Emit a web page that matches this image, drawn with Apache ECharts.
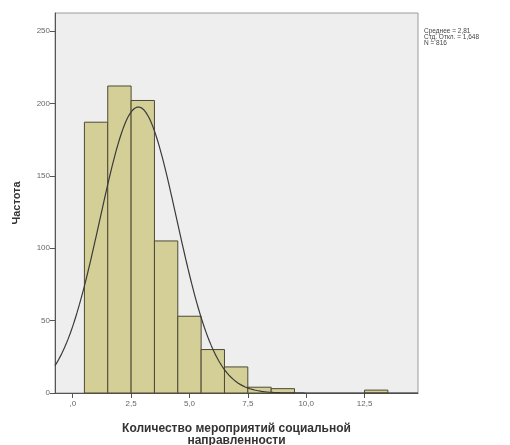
<!DOCTYPE html>
<html>
<head>
<meta charset="utf-8">
<script src="https://cdn.jsdelivr.net/npm/echarts@6/dist/echarts.min.js"></script>
<style>
  html, body { margin: 0; padding: 0; background: #ffffff; }
  #chart { width: 510px; height: 445px; }
</style>
</head>
<body>
<div id="chart"></div>
<script>
// Histogram bins: centre of each unit-wide bin and its frequency
const binCenters = [1, 2, 3, 4, 5, 6, 7, 8, 9, 13];
const binCounts = [187, 212, 202, 105, 53, 30, 18, 4, 3, 2];
const binWidth = 1;

// Summary statistics shown beside the plot
const statMean = 2.81;
const statSd = 1.648;
const statN = 816;
const statLines = ['Среднее = 2,81', 'Стд. Откл. = 1,648', 'N = 816'];

// Axis ticks and labels
const xTickValues = [0, 2.5, 5, 7.5, 10, 12.5];
const xTickLabels = [',0', '2,5', '5,0', '7,5', '10,0', '12,5'];
const xMin = -0.76, xMax = 14.79;
const yMin = 0, yMax = 262.4, yStep = 50;

// Fitted normal curve over the visible range
const curveStep = 0.05;
const curve = [];
for (let x = xMin; x <= xMax + 1e-9; x += curveStep) {
  const z = (x - statMean) / statSd;
  const y = statN * binWidth / (statSd * Math.sqrt(2 * Math.PI)) * Math.exp(-0.5 * z * z);
  curve.push([x, y]);
}

const bins = binCenters.map((c, i) => [c, binCounts[i]]);

const chart = echarts.init(document.getElementById('chart'), null, { renderer: 'canvas' });

chart.setOption({
  animation: false,
  backgroundColor: '#ffffff',
  grid: {
    left: 55, top: 13, right: 92, bottom: 52,
    outerBoundsMode: 'none',
    containLabel: false,
    show: true,
    backgroundColor: '#eeeeee',
    borderColor: '#9a9a9a',
    borderWidth: 1
  },
  xAxis: {
    type: 'value',
    min: xMin,
    max: xMax,
    axisLine: { show: true, onZero: false, lineStyle: { color: '#555555', width: 1 } },
    axisTick: {
      show: true, inside: false, length: 5,
      customValues: xTickValues,
      lineStyle: { color: '#555555' }
    },
    axisLabel: {
      customValues: xTickValues,
      formatter: v => {
        const i = xTickValues.findIndex(t => Math.abs(t - v) < 1e-6);
        return i >= 0 ? xTickLabels[i] : '';
      },
      fontFamily: 'Liberation Sans, Arial, sans-serif',
      fontSize: 8,
      color: '#666666',
      margin: 7
    },
    splitLine: { show: false },
    name: 'Количество мероприятий социальной\nнаправленности',
    nameLocation: 'middle',
    nameGap: 30,
    nameTextStyle: {
      fontFamily: 'Liberation Sans, Arial, sans-serif',
      fontSize: 12,
      fontWeight: 'bold',
      color: '#333333',
      lineHeight: 12
    }
  },
  yAxis: {
    type: 'value',
    min: yMin,
    max: yMax,
    interval: yStep,
    axisLine: { show: true, onZero: false, lineStyle: { color: '#555555', width: 1 } },
    axisTick: { show: true, inside: false, length: 5, lineStyle: { color: '#555555' } },
    axisLabel: {
      fontFamily: 'Liberation Sans, Arial, sans-serif',
      fontSize: 8,
      color: '#666666',
      margin: 5,
      showMaxLabel: false
    },
    splitLine: { show: false },
    name: 'Частота',
    nameLocation: 'middle',
    nameGap: 33,
    nameTextStyle: {
      fontFamily: 'Liberation Sans, Arial, sans-serif',
      fontSize: 11,
      fontWeight: 'bold',
      color: '#333333'
    }
  },
  series: [
    {
      type: 'custom',
      data: bins,
      renderItem: (params, api) => {
        const c = api.value(0);
        const n = api.value(1);
        const topLeft = api.coord([c - binWidth / 2, n]);
        const bottomRight = api.coord([c + binWidth / 2, 0]);
        return {
          type: 'rect',
          shape: {
            x: topLeft[0],
            y: topLeft[1],
            width: bottomRight[0] - topLeft[0],
            height: bottomRight[1] - topLeft[1]
          },
          style: {
            fill: '#d4ce97',
            stroke: '#4d4a35',
            lineWidth: 1
          }
        };
      },
      encode: { x: 0, y: 1 },
      z: 2
    },
    {
      type: 'line',
      data: curve,
      showSymbol: false,
      smooth: false,
      lineStyle: { color: '#3a3a3a', width: 1.2 },
      z: 3
    }
  ],
  graphic: statLines.map((t, i) => ({
    type: 'text',
    left: 424,
    top: 28 + i * 6,
    style: {
      text: t,
      fontFamily: 'Liberation Sans, Arial, sans-serif',
      fontSize: 6.5,
      fill: '#444444'
    }
  }))
});
</script>
</body>
</html>
